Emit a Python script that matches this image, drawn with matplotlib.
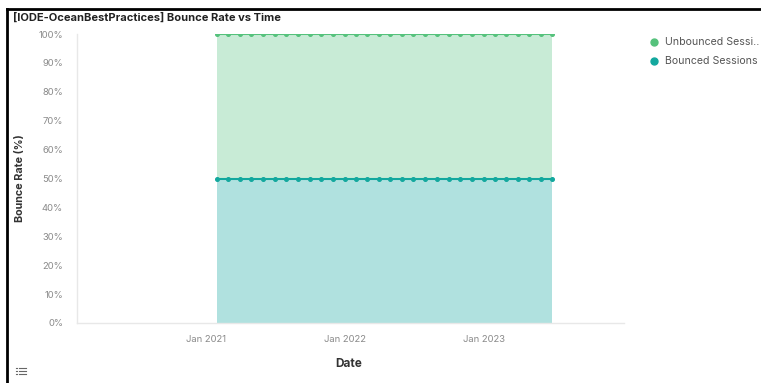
import matplotlib.pyplot as plt
import matplotlib.dates as mdates
from matplotlib.lines import Line2D
import pandas as pd

plt.rcParams['font.family'] = ['Inter', 'DejaVu Sans']

months = ["2021-02", "2021-03", "2021-04", "2021-05", "2021-06", "2021-07",
          "2021-08", "2021-09", "2021-10", "2021-11", "2021-12", "2022-01",
          "2022-02", "2022-03", "2022-04", "2022-05", "2022-06", "2022-07",
          "2022-08", "2022-09", "2022-10", "2022-11", "2022-12", "2023-01",
          "2023-02", "2023-03", "2023-04", "2023-05", "2023-06", "2023-07"]
bounced = [50, 50, 50, 50, 50, 50, 50, 50, 50, 50, 50, 50, 50, 50, 50,
           50, 50, 50, 50, 50, 50, 50, 50, 50, 50, 50, 50, 50, 50, 50]
unbounced = [50, 50, 50, 50, 50, 50, 50, 50, 50, 50, 50, 50, 50, 50, 50,
             50, 50, 50, 50, 50, 50, 50, 50, 50, 50, 50, 50, 50, 50, 50]
tick_dates = ["2021-01-01", "2022-01-01", "2023-01-01"]
series_names = ["Unbounced Sessi..", "Bounced Sessions"]

dates = pd.to_datetime(months)
top = [b + u for b, u in zip(bounced, unbounced)]

teal_line, teal_fill = "#13a89e", "#b0e1df"
green_line, green_fill = "#55c27c", "#c8ebd6"

fig = plt.figure(figsize=(7.61, 3.83), dpi=100)
ax = fig.add_axes([77 / 761, 1 - 323 / 383, (624 - 77) / 761, (323 - 34) / 383])

ax.fill_between(dates, 0, bounced, color=teal_fill, lw=0)
ax.fill_between(dates, bounced, top, color=green_fill, lw=0)
ax.plot(dates, top, color=green_line, lw=1.5, marker='o', ms=2.6, zorder=3)
ax.plot(dates, bounced, color=teal_line, lw=1.5, marker='o', ms=2.6, zorder=3)

ax.set_ylim(0, 100)
ax.set_yticks(range(0, 101, 10))
ax.set_yticklabels([f"{v}%" for v in range(0, 101, 10)])
ax.set_xlim(pd.Timestamp("2020-01-29"), pd.Timestamp("2024-01-05"))
ax.set_xticks(pd.to_datetime(tick_dates))
ax.xaxis.set_major_formatter(mdates.DateFormatter("%b %Y"))

for s in ["top", "right"]:
    ax.spines[s].set_visible(False)
for s in ["left", "bottom"]:
    ax.spines[s].set_color("#e8e8e8")
    ax.spines[s].set_linewidth(1)
ax.tick_params(length=0, labelsize=6.8, labelcolor="#8a8a8a")
ax.tick_params(axis='y', pad=10)
ax.tick_params(axis='x', pad=9)

fig.text(20 / 761, 1 - 178 / 383, "Bounce Rate (%)", rotation=90, ha='center', va='center',
         fontsize=7.8, fontweight='bold', color="#333333")
fig.text(349 / 761, 1 - 364 / 383, "Date", ha='center', va='center',
         fontsize=8.5, fontweight='bold', color="#333333")
fig.text(13 / 761, 1 - 18 / 383, "[IODE-OceanBestPractices] Bounce Rate vs Time",
         ha='left', va='center', fontsize=8, fontweight='bold', color="#222222")

# legend
for i, (name, col) in enumerate(zip(series_names, [green_line, teal_line])):
    y = 1 - (42 + 19 * i) / 383
    fig.add_artist(Line2D([654 / 761], [y], marker='o', ms=5, color=col, lw=0,
                          transform=fig.transFigure))
    fig.text(665 / 761, y, name, ha='left', va='center', fontsize=7.6, color="#555555")

# frame lines on top and left
fig.add_artist(Line2D([7 / 761, 1], [1 - 9 / 383, 1 - 9 / 383], color="black", lw=2,
                      transform=fig.transFigure))
fig.add_artist(Line2D([7 / 761, 7 / 761], [0, 1 - 9 / 383], color="black", lw=2,
                      transform=fig.transFigure))

# little list icon bottom left
for k in range(3):
    yy = 1 - (368 + 3 * k) / 383
    fig.add_artist(Line2D([16 / 761, 17 / 761], [yy, yy], color="#666666", lw=0.8,
                          transform=fig.transFigure))
    fig.add_artist(Line2D([19 / 761, 26 / 761], [yy, yy], color="#666666", lw=0.8,
                          transform=fig.transFigure))

fig.savefig("out.png", dpi=100)
